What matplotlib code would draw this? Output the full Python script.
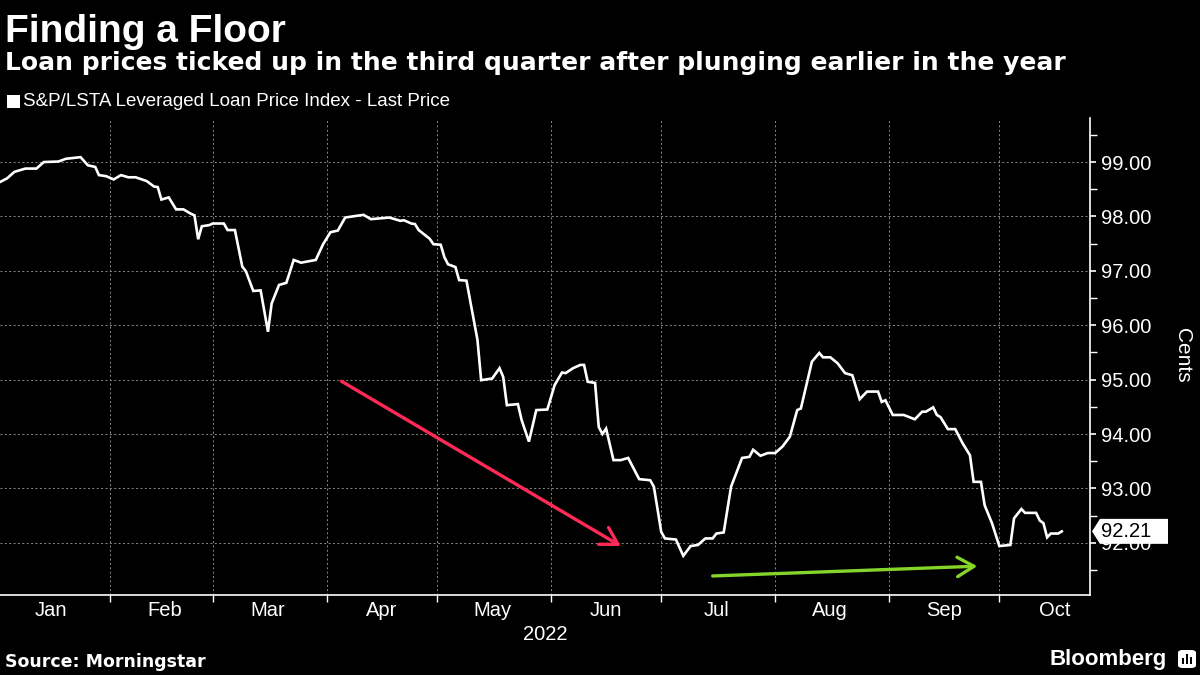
import numpy as np
import matplotlib
matplotlib.use("Agg")
import matplotlib.pyplot as plt
import matplotlib.dates as mdates
import matplotlib.transforms as mtransforms
from matplotlib.patches import Polygon, FancyBboxPatch, Rectangle

plt.rcParams['font.family'] = ['Liberation Sans', 'DejaVu Sans']

# ---------------- data ----------------
title = "Finding a Floor"
subtitle = "Loan prices ticked up in the third quarter after plunging earlier in the year"
series_name = "S&P/LSTA Leveraged Loan Price Index - Last Price"
source = "Source: Morningstar"
y_label = "Cents"
year_label = "2022"

dates = ["2022-01-02", "2022-01-04", "2022-01-06", "2022-01-09", "2022-01-12", "2022-01-14", "2022-01-18",
         "2022-01-20", "2022-01-24", "2022-01-26", "2022-01-28", "2022-01-29", "2022-01-31",
         "2022-02-02", "2022-02-04", "2022-02-06", "2022-02-08", "2022-02-11", "2022-02-13", "2022-02-14",
         "2022-02-15", "2022-02-17", "2022-02-19", "2022-02-21", "2022-02-23", "2022-02-24", "2022-02-25",
         "2022-02-26", "2022-02-28",
         "2022-03-01", "2022-03-04", "2022-03-05", "2022-03-07", "2022-03-09", "2022-03-10", "2022-03-12",
         "2022-03-14", "2022-03-16", "2022-03-17", "2022-03-19", "2022-03-21", "2022-03-23", "2022-03-25",
         "2022-03-29", "2022-03-31",
         "2022-04-02", "2022-04-04", "2022-04-06", "2022-04-08", "2022-04-11", "2022-04-13", "2022-04-18",
         "2022-04-21", "2022-04-22", "2022-04-24", "2022-04-25", "2022-04-26", "2022-04-29", "2022-04-30",
         "2022-05-02", "2022-05-03", "2022-05-04", "2022-05-06", "2022-05-07", "2022-05-09", "2022-05-11",
         "2022-05-12", "2022-05-13", "2022-05-16", "2022-05-18", "2022-05-19", "2022-05-20", "2022-05-23",
         "2022-05-24", "2022-05-26", "2022-05-28", "2022-05-31",
         "2022-06-02", "2022-06-04", "2022-06-05", "2022-06-07", "2022-06-09", "2022-06-10", "2022-06-11",
         "2022-06-13", "2022-06-14", "2022-06-15", "2022-06-16", "2022-06-18", "2022-06-20", "2022-06-22",
         "2022-06-25", "2022-06-28", "2022-06-29",
         "2022-07-01", "2022-07-02", "2022-07-05", "2022-07-07", "2022-07-09", "2022-07-11", "2022-07-13",
         "2022-07-15", "2022-07-16", "2022-07-18", "2022-07-20", "2022-07-23", "2022-07-25", "2022-07-26",
         "2022-07-28", "2022-07-30",
         "2022-08-01", "2022-08-03", "2022-08-05", "2022-08-07", "2022-08-08", "2022-08-11", "2022-08-13",
         "2022-08-14", "2022-08-16", "2022-08-18", "2022-08-20", "2022-08-22", "2022-08-24", "2022-08-26",
         "2022-08-29", "2022-08-30", "2022-08-31",
         "2022-09-02", "2022-09-05", "2022-09-08", "2022-09-10", "2022-09-11", "2022-09-13", "2022-09-14",
         "2022-09-15", "2022-09-17", "2022-09-19", "2022-09-21", "2022-09-23", "2022-09-24", "2022-09-26",
         "2022-09-27", "2022-09-29",
         "2022-10-01", "2022-10-04", "2022-10-05", "2022-10-07", "2022-10-08", "2022-10-11", "2022-10-12",
         "2022-10-13", "2022-10-14", "2022-10-15", "2022-10-17", "2022-10-18"]

prices = [98.63, 98.70, 98.82, 98.88, 98.88, 99.00, 99.01, 99.06, 99.09, 98.94, 98.91, 98.76, 98.74,
          98.68, 98.76, 98.72, 98.72, 98.65, 98.55, 98.54, 98.31, 98.35, 98.13, 98.13, 98.05, 98.02, 97.58,
          97.82, 97.84,
          97.87, 97.87, 97.75, 97.75, 97.08, 96.99, 96.63, 96.64, 95.88, 96.40, 96.74, 96.78, 97.20, 97.15,
          97.20, 97.49,
          97.71, 97.74, 97.98, 98.00, 98.03, 97.95, 97.98, 97.92, 97.93, 97.87, 97.86, 97.75, 97.59, 97.49,
          97.48, 97.25, 97.12, 97.07, 96.83, 96.82, 96.10, 95.73, 94.99, 95.02, 95.21, 95.05, 94.53, 94.55,
          94.26, 93.86, 94.44, 94.45,
          94.90, 95.13, 95.12, 95.21, 95.27, 95.27, 94.96, 94.94, 94.13, 94.00, 94.10, 93.52, 93.52, 93.56,
          93.17, 93.15, 93.03,
          92.20, 92.08, 92.06, 91.76, 91.94, 91.96, 92.08, 92.08, 92.17, 92.19, 93.03, 93.56, 93.58, 93.71,
          93.60, 93.65,
          93.65, 93.77, 93.95, 94.44, 94.47, 95.33, 95.49, 95.41, 95.41, 95.30, 95.12, 95.08, 94.64, 94.78,
          94.78, 94.59, 94.62,
          94.35, 94.35, 94.27, 94.41, 94.41, 94.49, 94.35, 94.31, 94.09, 94.09, 93.83, 93.61, 93.12, 93.12,
          92.69, 92.36,
          91.94, 91.96, 92.45, 92.62, 92.55, 92.55, 92.41, 92.36, 92.10, 92.17, 92.17, 92.21]

last_value = 92.21
y_ticks = [92, 93, 94, 95, 96, 97, 98, 99]

# annotation arrows (start date, start value) -> (end date, end value)
red_arrow = (("2022-04-05", 94.97), ("2022-06-20", 91.94))
green_arrow = (("2022-07-15", 91.39), ("2022-09-25", 91.57))

# ---------------- figure ----------------
W, H = 1200, 675
fig = plt.figure(figsize=(12, 6.75), dpi=100, facecolor='black')
ax = fig.add_axes([0, 80 / H, 1090 / W, 477 / H])
ax.set_facecolor('black')

x = np.array(dates, dtype='datetime64[D]')
ax.plot(x, prices, color='white', lw=1.9, zorder=3, solid_joinstyle='miter')

ax.set_xlim(np.datetime64('2022-01-02T02:00'), np.datetime64('2022-10-25T16:00'))
ax.set_ylim(91.04, 99.81)

# x axis: month boundaries as ticks, labels centred mid-month
ax.xaxis.set_major_locator(mdates.MonthLocator())
ax.xaxis.set_major_formatter(plt.NullFormatter())
ax.xaxis.set_minor_locator(mdates.MonthLocator(bymonthday=16))
ax.xaxis.set_minor_formatter(mdates.DateFormatter('%b'))
ax.tick_params(axis='x', which='major', direction='out', length=5, width=1, color='white')
ax.tick_params(axis='x', which='minor', length=0, pad=4, labelsize=14.5, labelcolor='white')

# y axis on the right
ax.yaxis.tick_right()
ax.set_yticks(y_ticks)
ax.set_yticklabels([f"{v:.2f}" for v in y_ticks])
ax.set_yticks(np.arange(91.5, 100, 1.0), minor=True)
ax.tick_params(axis='y', which='major', direction='out', length=4, width=1.2, color='white',
               labelsize=14.5, labelcolor='white', pad=4)
ax.tick_params(axis='y', which='minor', direction='out', length=5, width=1, color='white')

ax.grid(True, which='major', color='#8a8a8a', lw=0.7, linestyle=(0, (2, 2.5)))

for s in ['left', 'top']:
    ax.spines[s].set_visible(False)
for s in ['right', 'bottom']:
    ax.spines[s].set_color('white')
    ax.spines[s].set_linewidth(1.2)

# arrows
for (p0, p1), col in [(red_arrow, '#ff2a55'), (green_arrow, '#84d42a')]:
    ax.annotate('', xy=(np.datetime64(p1[0]), p1[1]), xytext=(np.datetime64(p0[0]), p0[1]),
                arrowprops=dict(arrowstyle='->,head_length=0.6,head_width=0.35', color=col, lw=2.4,
                                mutation_scale=20, shrinkA=0, shrinkB=0), zorder=4)

# last value tag
trans = mtransforms.blended_transform_factory(ax.transAxes, ax.transData)
hh = 12.5 / (477 / (99.81 - 91.04))
x0, x1, x2 = 1092 / 1090, 1100 / 1090, 1168 / 1090
tag = Polygon([(x0, last_value), (x1, last_value + hh), (x2, last_value + hh),
               (x2, last_value - hh), (x1, last_value - hh)], closed=True,
              transform=trans, facecolor='white', edgecolor='none', clip_on=False, zorder=6)
ax.add_patch(tag)
ax.text(1101 / 1090, last_value, f"{last_value:.2f}", transform=trans, ha='left', va='center',
        color='black', fontsize=14.5, clip_on=False, zorder=7)

# ---------------- texts ----------------
fig.text(5 / W, 1 - 42 / H, title, color='white', fontsize=28, fontweight='bold', va='baseline')
fig.text(5 / W, 1 - 70 / H, subtitle, color='white', fontsize=18, fontweight='bold', va='baseline',
         family='DejaVu Sans')
fig.patches.append(Rectangle((7 / W, 1 - 108 / H), 13 / W, 13 / H, transform=fig.transFigure,
                             facecolor='white', edgecolor='none'))
fig.text(23 / W, 1 - 101 / H, series_name, color='white', fontsize=13.5, va='center')
fig.text(1183 / W, 1 - 355 / H, y_label, color='white', fontsize=15, rotation=270,
         ha='center', va='center')
fig.text(545 / W, 1 - 635 / H, year_label, color='white', fontsize=14.5, ha='center', va='center')
fig.text(5 / W, 1 - 662 / H, source, color='white', fontsize=12.5, fontweight='bold', va='center',
         family='DejaVu Sans')
fig.text(1167 / W, 1 - 660 / H, "Bloomberg", color='white', fontsize=16, fontweight='bold',
         ha='right', va='center')
# small logo mark
fig.patches.append(FancyBboxPatch((1178 / W, 1 - 668 / H), 18 / W, 18 / H, transform=fig.transFigure,
                                  boxstyle='round,pad=0,rounding_size=0.004', facecolor='white',
                                  edgecolor='none'))
for bx, bh in [(1182, 6), (1186, 10), (1190, 7)]:
    fig.patches.append(Rectangle((bx / W, 1 - 664 / H), 2 / W, bh / H, transform=fig.transFigure,
                                 facecolor='black', edgecolor='none'))

fig.savefig('out.png', dpi=100, facecolor='black')
